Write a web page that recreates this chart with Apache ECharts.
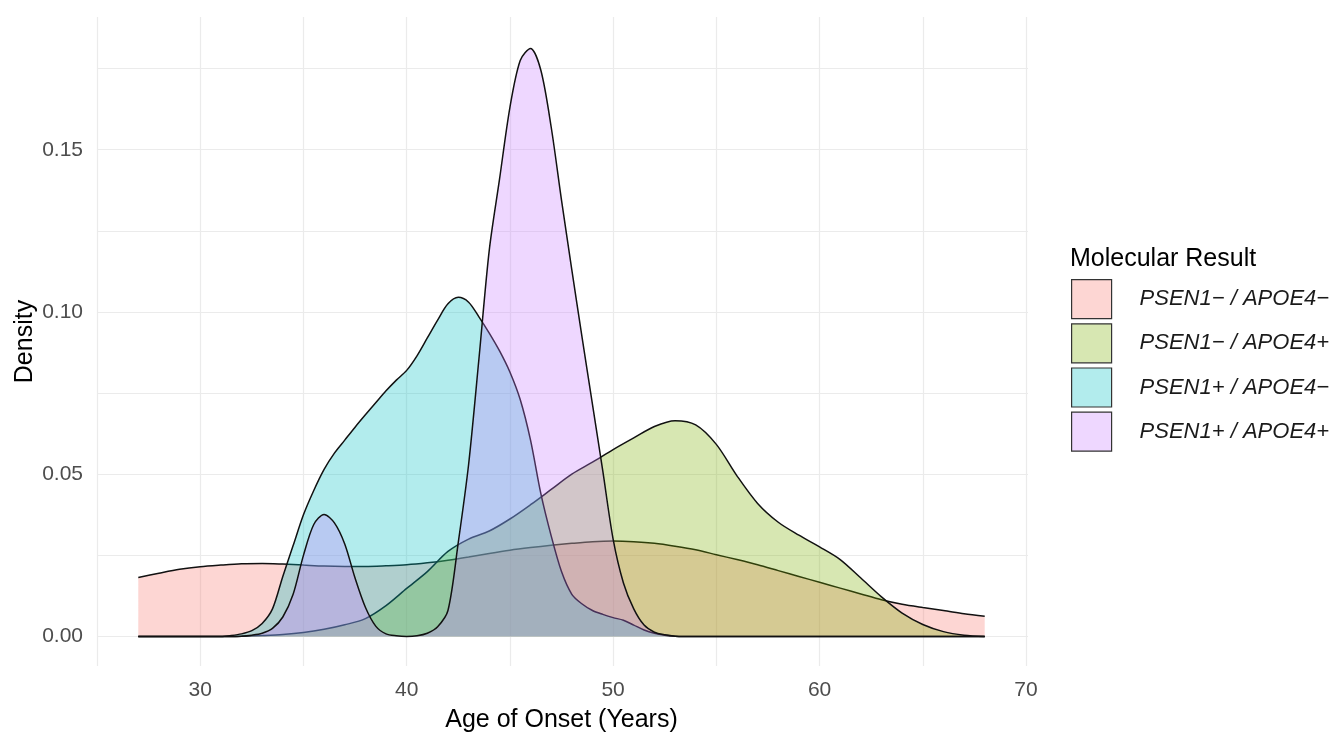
<!DOCTYPE html>
<html><head><meta charset="utf-8">
<script src="https://cdn.jsdelivr.net/npm/echarts/dist/echarts.min.js"></script>
<style>html,body{margin:0;padding:0;background:#fff}#c{width:1334px;height:734px}</style>
</head><body><div id="c"></div>
<script>
// ---- data ----
const categories = ['PSEN1\u2212 / APOE4\u2212', 'PSEN1\u2212 / APOE4+', 'PSEN1+ / APOE4\u2212', 'PSEN1+ / APOE4+'];
const xTickLabels = [30, 40, 50, 60, 70];
const yTickLabels = [0.00, 0.05, 0.10, 0.15];

const agesUnit = [27,28,29,30,31,32,33,34,35,36,37,38,39,40,41,42,43,44,45,46,47,48,49,50,51,52,53,54,55,56,57,58,59,60,61,62,63,64,65,66,67,68];
const densNegNeg = [0.0182,0.0195,0.0207,0.0215,0.0220,0.0224,0.0225,0.0223,0.0220,0.0217,0.0216,0.0216,0.0218,0.0221,0.0227,0.0235,0.0245,0.0256,0.0266,0.0274,0.0281,0.0287,0.0292,0.0294,0.0292,0.0287,0.0278,0.0267,0.0252,0.0237,0.0221,0.0203,0.0185,0.0167,0.0149,0.0131,0.0113,0.0099,0.0089,0.0080,0.0070,0.0062];
const densNegPos = [0,0,0,0,0,0.0001,0.0003,0.0006,0.0012,0.0022,0.0036,0.0055,0.0095,0.0148,0.0200,0.0262,0.0300,0.0325,0.0362,0.0406,0.0453,0.0500,0.0537,0.0576,0.0612,0.0647,0.0665,0.0652,0.0592,0.0495,0.0410,0.0352,0.0312,0.0276,0.0237,0.0180,0.0122,0.0072,0.0037,0.0015,0.0004,0];

const agesPosNeg = [27,30,31,31.5,32,32.5,33,33.5,34,34.5,35,35.5,36,36.5,37,37.5,38,38.5,39,39.5,40,40.5,41,41.5,42,42.5,43,43.5,44,44.5,45,45.5,46,46.5,47,47.5,48,48.5,49,49.5,50,50.5,51,51.5,52,52.5,53,54,68];
const densPosNeg = [0,0,0,0.0003,0.0008,0.0018,0.0040,0.0085,0.0185,0.0280,0.0375,0.0450,0.0515,0.0565,0.0605,0.0645,0.0683,0.0720,0.0757,0.0790,0.0820,0.0865,0.0920,0.0975,0.1025,0.1045,0.1030,0.0985,0.0935,0.0880,0.0815,0.0730,0.0605,0.0440,0.0310,0.0200,0.0130,0.0100,0.0080,0.0068,0.0058,0.0050,0.0035,0.0020,0.0010,0.0004,0.0001,0,0];

const agesPosPos = [27,31,32,32.5,33,33.5,34,34.5,35,35.5,36,36.5,37,37.5,38,38.5,39,39.5,40,40.5,41,41.5,42,42.5,43,43.5,44,44.5,45,45.5,46,46.5,47,47.5,48,48.5,49,49.5,50,50.5,51,51.5,52,52.5,53,54,68];
const densPosPos = [0,0,0.0001,0.0004,0.0010,0.0025,0.0060,0.0130,0.0250,0.0345,0.0376,0.0350,0.0285,0.0180,0.0090,0.0032,0.0008,0.0002,0,0.0002,0.0010,0.0030,0.0080,0.0290,0.0530,0.0855,0.1190,0.1410,0.1630,0.1775,0.1812,0.1745,0.1570,0.1345,0.1130,0.0920,0.0715,0.0510,0.0300,0.0165,0.0085,0.0035,0.0013,0.0005,0.0001,0,0];

// ---- styles ----
const fillColors = ['rgba(248,118,109,0.3)','rgba(124,174,0,0.3)','rgba(0,191,196,0.3)','rgba(199,124,255,0.3)'];
const FONT = '"Liberation Sans", Arial, sans-serif';

const groups = [
  [agesUnit, densNegNeg],
  [agesUnit, densNegPos],
  [agesPosNeg, densPosNeg],
  [agesPosPos, densPosPos]
];

function zip(xs, ys) { return xs.map((x, i) => [x, ys[i]]); }
function near(v, list) { return list.some(t => Math.abs(t - v) < 1e-9); }

const chart = echarts.init(document.getElementById('c'), null, {renderer: 'canvas'});
const option = {
  animation: false,
  backgroundColor: '#fff',
  textStyle: {fontFamily: FONT},
  title: {
    text: 'Molecular Result', left: 1070, top: 247, padding: 0,
    textStyle: {fontFamily: FONT, fontSize: 25, fontWeight: 'normal', color: '#000'}
  },
  legend: {
    orient: 'vertical', left: 1071, top: 279, padding: 0,
    itemWidth: 40, itemHeight: 39, itemGap: 4,
    icon: 'rect', selectedMode: false,
    data: categories.map((n, i) => ({name: n, itemStyle: {color: fillColors[i], borderColor: '#333', borderWidth: 1.2}})),
    textStyle: {fontFamily: FONT, fontSize: 22, fontStyle: 'italic', color: '#1a1a1a', padding: [0, 0, 0, 23]}
  },
  grid: [
    {left: 97, right: 308, top: 17, bottom: 68, outerBoundsMode: 'none', containLabel: false},
    {left: 97, right: 306, top: 68.6, bottom: 97.5, outerBoundsMode: 'none', containLabel: false}
  ],
  xAxis: [
    {
      type: 'value', gridIndex: 0, min: 25, max: 70, interval: 5,
      axisLine: {show: false}, axisTick: {show: false},
      splitLine: {show: true, lineStyle: {color: '#ebebeb', width: 1.2}},
      axisLabel: {color: '#4d4d4d', fontSize: 21, fontFamily: FONT, margin: 14,
        formatter: v => near(v, xTickLabels) ? String(v) : ''},
      name: 'Age of Onset (Years)', nameLocation: 'middle', nameGap: 42, nameMoveOverlap: false,
      nameTextStyle: {color: '#000', fontSize: 25, fontFamily: FONT}
    },
    {type: 'value', gridIndex: 1, min: 0, max: 1, show: false}
  ],
  yAxis: [
    {
      type: 'value', gridIndex: 0, min: -0.0091, max: 0.1909,
      axisLine: {show: false}, axisTick: {show: false}, splitLine: {show: false},
      axisLabel: {show: false},
      name: 'Density', nameLocation: 'middle', nameGap: 59, nameRotate: 90, nameMoveOverlap: false,
      nameTextStyle: {color: '#000', fontSize: 25, fontFamily: FONT}
    },
    {
      type: 'value', gridIndex: 1, min: 0, max: 0.175, interval: 0.025,
      axisLine: {show: false}, axisTick: {show: false},
      splitLine: {show: true, lineStyle: {color: '#ebebeb', width: 1.2}},
      axisLabel: {color: '#4d4d4d', fontSize: 21, fontFamily: FONT, margin: 14,
        formatter: v => near(v, yTickLabels) ? v.toFixed(2) : ''}
    }
  ],
  series: groups.map((g, i) => ({
    type: 'line', name: categories[i], xAxisIndex: 0, yAxisIndex: 0,
    data: zip(g[0], g[1]),
    smooth: 0.3, symbol: 'none', showSymbol: false,
    lineStyle: {color: '#111', width: 1.5},
    itemStyle: {color: fillColors[i]},
    areaStyle: {color: fillColors[i], opacity: 1},
    z: 2 + i
  }))
};
chart.setOption(option);
</script>
</body></html>
